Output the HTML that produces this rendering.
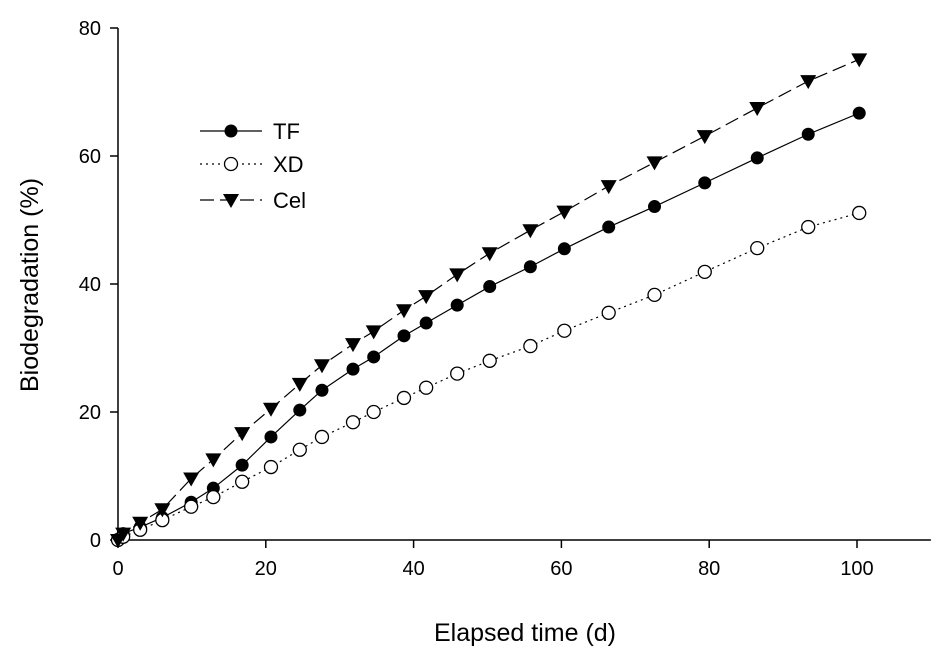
<!DOCTYPE html>
<html><head><meta charset="utf-8"><style>
html,body{margin:0;padding:0;background:#fff;}
svg{display:block;font-family:"Liberation Sans",Arial,sans-serif;}
</style></head><body>
<svg id="chart" width="943" height="661" viewBox="0 0 943 661">
<g id="axes"></g>
<g id="series"></g>
<g id="legend"></g>
<text x="525" y="641" text-anchor="middle" font-size="25">Elapsed time (d)</text>
<text transform="translate(38,285) rotate(-90)" text-anchor="middle" font-size="25">Biodegradation (%)</text>
</svg>
<script>
const days = [0,0.7,3.0,6.0,9.9,12.9,16.8,20.7,24.6,27.6,31.8,34.6,38.7,41.7,45.9,50.3,55.8,60.4,66.4,72.6,79.4,86.5,93.4,100.3];
const tfValues = [0,1,2,3.5,5.9,8.1,11.7,16.1,20.3,23.4,26.7,28.6,31.9,33.9,36.7,39.6,42.7,45.5,48.9,52.1,55.8,59.7,63.4,66.7];
const xdValues = [0,0.5,1.6,3.1,5.2,6.7,9.1,11.4,14.1,16.1,18.4,20,22.2,23.8,26.0,28.0,30.3,32.7,35.5,38.3,41.9,45.6,48.9,51.1];
const celValues = [0,1,2.7,4.8,9.6,12.6,16.7,20.5,24.4,27.3,30.6,32.6,35.9,38.1,41.5,44.8,48.4,51.3,55.3,59.0,63.1,67.5,71.7,75.1];
const xTicks = [0,20,40,60,80,100];
const yTicks = [0,20,40,60,80];
const seriesNames = ["TF","XD","Cel"];

const NS="http://www.w3.org/2000/svg";
const X0=118, XS=7.39, Y0=540, YS=6.4;
function xs(v){return X0+v*XS;}
function ys(v){return Y0-v*YS;}
function mk(tag,attrs,parent){const e=document.createElementNS(NS,tag);for(const k in attrs)e.setAttribute(k,attrs[k]);parent.appendChild(e);return e;}

const axes=document.getElementById('axes');
let l=mk('line',{x1:X0,y1:ys(80),x2:X0,y2:Y0,stroke:'#000','stroke-width':1.5},axes);


l=mk('line',{x1:X0,y1:Y0,x2:xs(110),y2:Y0,stroke:'#000','stroke-width':1.5},axes);


xTicks.forEach(t=>{
  const tk=mk('line',{x1:xs(t),y1:Y0,x2:xs(t),y2:Y0+8,stroke:'#000','stroke-width':1.5},axes);
  
  
  const tx=mk('text',{x:xs(t),y:Y0+35,'text-anchor':'middle','font-size':20},axes);
  tx.textContent=t;
  
  
});
yTicks.forEach(t=>{
  const tk=mk('line',{x1:X0-8,y1:ys(t),x2:X0,y2:ys(t),stroke:'#000','stroke-width':1.5},axes);
  
  
  const tx=mk('text',{x:X0-17,y:ys(t)+7,'text-anchor':'end','font-size':20},axes);
  tx.textContent=t;
  
  
});

const ser=document.getElementById('series');
const styles={TF:{dash:'',marker:'dot'},XD:{dash:'2 4',marker:'ring'},Cel:{dash:'14 6',marker:'tri'}};
function marker(type,cx,cy,parent){
  let m;
  if(type==='dot') m=mk('circle',{cx:cx,cy:cy,r:6.5,fill:'#000'},parent);
  else if(type==='ring') m=mk('circle',{cx:cx,cy:cy,r:6.5,fill:'#fff',stroke:'#000','stroke-width':1.3},parent);
  else m=mk('polygon',{points:`${cx-8},${cy-6} ${cx+8},${cy-6} ${cx},${cy+8}`,fill:'#000'},parent);
  return m;
}
[[ 'TF',tfValues],['XD',xdValues],['Cel',celValues]].forEach(([name,vals])=>{
  const g=mk('g',{},ser);
  
  
  const pts=days.map((d,i)=>xs(d)+','+ys(vals[i])).join(' ');
  const pl=mk('polyline',{points:pts,fill:'none',stroke:'#000','stroke-width':1.2,'stroke-dasharray':styles[name].dash},g);
  
  
  days.forEach((d,i)=>{
    const m=marker(styles[name].marker,xs(d),ys(vals[i]),g);
    
    
  });
});

const leg=document.getElementById('legend');
const legY=[131,164,200];
seriesNames.forEach((name,i)=>{
  const g=mk('g',{},leg);
  
  
  mk('line',{x1:200,y1:legY[i],x2:262,y2:legY[i],stroke:'#000','stroke-width':1.2,'stroke-dasharray':styles[name].dash},g);
  marker(styles[name].marker,231,legY[i],g);
  const t=mk('text',{x:273,y:legY[i]+8,'font-size':22},g);
  t.textContent=name;
});
</script>
</body></html>
